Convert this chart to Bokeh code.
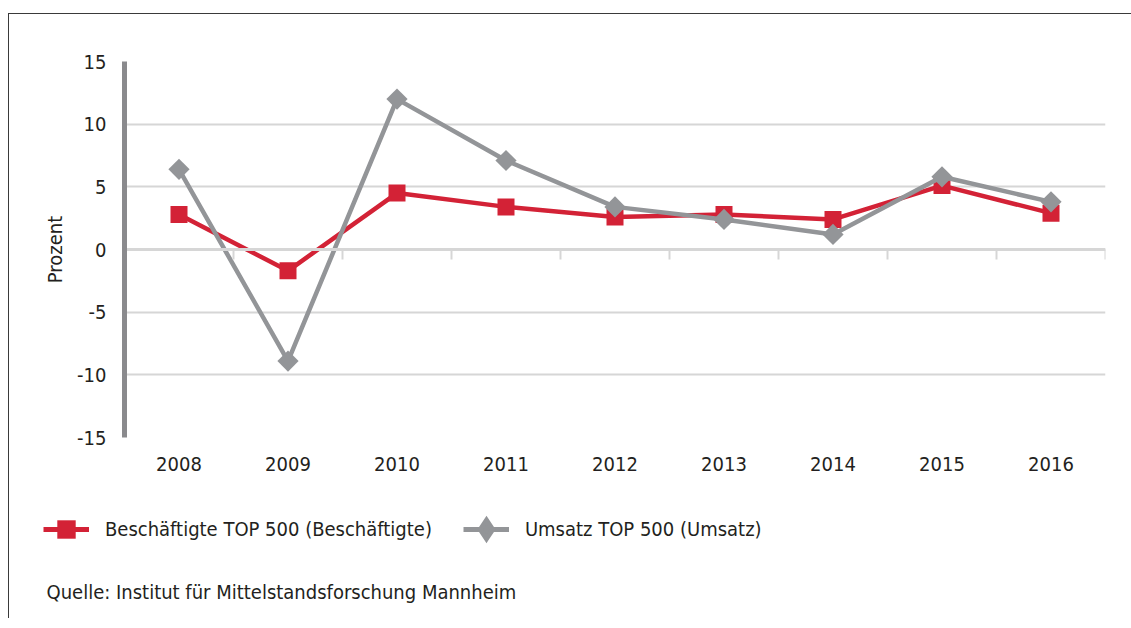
from bokeh.plotting import figure
from bokeh.layouts import column
from bokeh.models import (Range1d, FixedTicker, LinearAxis, Legend, LegendItem, Label)
from bokeh.embed import file_html
from bokeh.resources import INLINE

# ---- data ----
years = ["2008", "2009", "2010", "2011", "2012", "2013", "2014", "2015", "2016"]
beschaeftigte = [2.8, -1.7, 4.5, 3.4, 2.6, 2.8, 2.4, 5.1, 2.9]
umsatz = [6.4, -8.9, 12.0, 7.1, 3.4, 2.4, 1.2, 5.8, 3.8]
y_ticks = [-15, -10, -5, 0, 5, 10, 15]
label_b = "Beschäftigte TOP 500 (Beschäftigte)"
label_u = "Umsatz TOP 500 (Umsatz)"
source_text = "Quelle: Institut für Mittelstandsforschung Mannheim"

FONT = "DejaVu Sans Condensed"
FS = "20px"
RED = "#d32236"
GRAY = "#939598"
GRID = "#d6d6d6"
TXT = "#231f20"

x = list(range(len(years)))
bounds = [i + 0.5 for i in x]

p = figure(width=1122, height=480,
           x_range=Range1d(-0.5, len(years) - 0.5),
           y_range=Range1d(y_ticks[0], y_ticks[-1]),
           output_backend="svg", toolbar_location=None,
           min_border_left=115, min_border_right=26,
           min_border_top=47, min_border_bottom=57)
p.frame_align = False
p.outline_line_color = None
p.background_fill_color = "white"
p.border_fill_color = "white"

# grid
p.xgrid.grid_line_color = None
p.ygrid.ticker = FixedTicker(ticks=y_ticks)
p.ygrid.grid_line_color = GRID
p.ygrid.grid_line_width = 2

# y axis
ya = p.yaxis[0]
ya.ticker = FixedTicker(ticks=y_ticks)
ya.major_label_overrides = {v: str(v) for v in y_ticks}
ya.major_tick_out = 0
ya.major_tick_in = 0
ya.minor_tick_line_color = None
ya.axis_line_color = "#8a8a8d"
ya.axis_line_width = 5
ya.major_label_standoff = 18
ya.major_label_text_font = FONT
ya.major_label_text_font_size = FS
ya.major_label_text_color = TXT
ya.axis_label = "Prozent"
ya.axis_label_text_font = FONT
ya.axis_label_text_font_size = FS
ya.axis_label_text_font_style = "normal"
ya.axis_label_text_color = TXT
ya.axis_label_standoff = 7

# x axis (labels)
xa = p.xaxis[0]
xa.ticker = FixedTicker(ticks=x)
xa.major_label_overrides = {i: y for i, y in zip(x, years)}
xa.major_tick_line_color = None
xa.major_tick_out = 0
xa.major_tick_in = 0
xa.minor_tick_line_color = None
xa.axis_line_color = None
xa.major_label_standoff = 19
xa.major_label_text_font = FONT
xa.major_label_text_font_size = FS
xa.major_label_text_color = TXT

# zero axis with category boundary ticks
za = LinearAxis(ticker=FixedTicker(ticks=bounds), fixed_location=0)
za.axis_line_color = GRID
za.axis_line_width = 3
za.major_tick_line_color = GRID
za.major_tick_line_width = 2
za.major_tick_out = 10
za.major_tick_in = 0
za.minor_tick_line_color = None
za.major_label_text_alpha = 0
za.major_label_text_font_size = "1px"
p.add_layout(za, "below")

# series
p.line(x, beschaeftigte, line_color=RED, line_width=4.5)
p.scatter(x, beschaeftigte, marker="square", size=17,
          fill_color=RED, line_color=None)
p.line(x, umsatz, line_color=GRAY, line_width=4.5)
p.scatter(x, umsatz, marker="square", angle=0.785398, size=15,
          fill_color=GRAY, line_color=None)

# ---- legend + source panel ----
p2 = figure(width=1122, height=124, x_range=Range1d(0, 1), y_range=Range1d(0, 1),
            x_axis_type=None, y_axis_type=None,
            output_backend="svg", toolbar_location=None,
            min_border_left=0, min_border_right=0,
            min_border_top=0, min_border_bottom=0)
p2.frame_align = False
p2.outline_line_color = None
p2.background_fill_color = "white"
p2.border_fill_color = "white"

# hidden series renderers used only for the legend glyphs
lb_l = p2.line(x, beschaeftigte, line_color=RED, line_width=5, visible=False)
lb_m = p2.scatter(x, beschaeftigte, marker="square", fill_color=RED,
                  line_color=None, visible=False)
lu_l = p2.line(x, umsatz, line_color=GRAY, line_width=5, visible=False)
lu_m = p2.scatter(x, umsatz, marker="diamond", fill_color=GRAY,
                  line_color=GRAY, line_width=5, line_join="miter",
                  visible=False)

legend = Legend(items=[LegendItem(label=label_b, renderers=[lb_l, lb_m]),
                       LegendItem(label=label_u, renderers=[lu_l, lu_m])],
                location=(34, 65), orientation="horizontal",
                glyph_width=46, glyph_height=48, label_standoff=16,
                spacing=31, padding=0, margin=0,
                border_line_color=None, background_fill_alpha=0,
                inactive_fill_alpha=0,
                label_text_font=FONT, label_text_font_size=FS,
                label_text_color=TXT)
p2.add_layout(legend)

src = Label(x=37, y=27, x_units="screen", y_units="screen",
            text=source_text, text_baseline="middle",
            text_font=FONT, text_font_size=FS, text_color=TXT)
p2.add_layout(src)

layout = column(p, p2, spacing=0,
                styles={"border-left": "1px solid #3a3a3a",
                        "border-top": "1px solid #3a3a3a",
                        "margin-top": "13px", "margin-left": "8px"})

open("out.html", "w").write(file_html(layout, INLINE))
